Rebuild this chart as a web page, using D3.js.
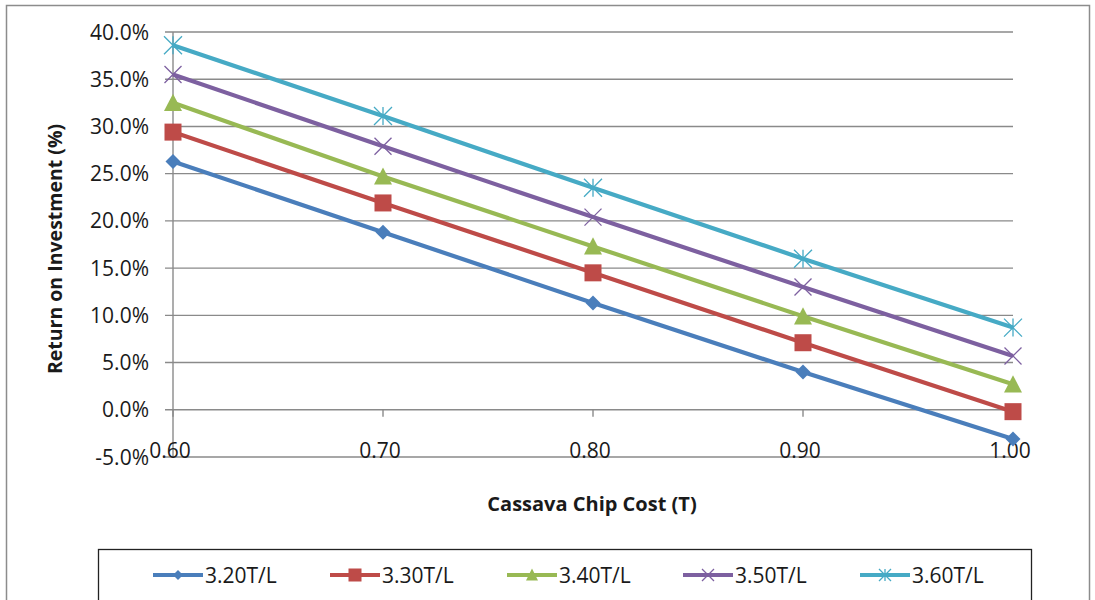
<!DOCTYPE html>
<html>
<head>
<meta charset="utf-8">
<script src="https://cdn.jsdelivr.net/npm/d3@7"></script>
<style>
  html, body { margin: 0; padding: 0; background: #fff; }
  svg { display: block; }
  text { font-family: "Open Sans", "Noto Sans", sans-serif; fill: #1a1a1a; }
</style>
</head>
<body>
<svg id="chart" width="1095" height="600"></svg>
<script>
// Chip cost on the horizontal axis
const chipCosts = [0.60, 0.70, 0.80, 0.90, 1.00];
const xTickLabels = ["0.60", "0.70", "0.80", "0.90", "1.00"];

// Ethanol price series (return on investment, fraction)
const seriesNames = ["3.20T/L", "3.30T/L", "3.40T/L", "3.50T/L", "3.60T/L"];
const roi320 = [0.263, 0.188, 0.113, 0.040, -0.031];
const roi330 = [0.294, 0.219, 0.145, 0.071, -0.002];
const roi340 = [0.325, 0.247, 0.173, 0.099, 0.027];
const roi350 = [0.355, 0.279, 0.204, 0.130, 0.057];
const roi360 = [0.386, 0.311, 0.235, 0.160, 0.087];

const yTicks = [-0.05, 0, 0.05, 0.10, 0.15, 0.20, 0.25, 0.30, 0.35, 0.40];

const colors = ["#4A7EBB", "#BE4B48", "#98B954", "#7D60A0", "#46AAC5"];
const markers = ["diamond", "square", "triangle", "x", "star"];
const allSeries = [roi320, roi330, roi340, roi350, roi360];

const svg = d3.select("#chart");

// outer chart frame
svg.append("rect")
  .attr("x", 6.5).attr("y", 5.5).attr("width", 1083).attr("height", 640)
  .attr("fill", "#fff").attr("stroke", "#8c8c8c").attr("stroke-width", 1.5);

const x = d3.scaleLinear().domain([0.6, 1.0]).range([173, 1013]);
const y = d3.scaleLinear().domain([-0.05, 0.40]).range([457, 32]);

// horizontal gridlines with short left ticks
const grid = svg.append("g");
grid.selectAll("line").data(yTicks).join("line")
  .attr("x1", 165).attr("x2", x(1.0))
  .attr("y1", d => y(d)).attr("y2", d => y(d))
  .attr("stroke", "#8a8a8a").attr("stroke-width", 1.4);

// vertical axis line
svg.append("line")
  .attr("x1", x(0.6)).attr("x2", x(0.6))
  .attr("y1", y(0.40)).attr("y2", y(-0.05))
  .attr("stroke", "#8a8a8a").attr("stroke-width", 1.4);

// y tick labels (plain hyphen for negatives)
const pct = d3.format(".1%");
svg.append("g").selectAll("text").data(yTicks).join("text")
  .attr("x", 149).attr("y", d => y(d) + 7.5)
  .attr("text-anchor", "end")
  .style("font-size", "21px")
  .text(d => pct(d).replace("\u2212", "-"));

// horizontal axis sits at 0%, tick marks pointing down
svg.append("g").selectAll("line").data(chipCosts).join("line")
  .attr("x1", d => x(d)).attr("x2", d => x(d))
  .attr("y1", y(0)).attr("y2", y(0) + 7)
  .attr("stroke", "#8a8a8a").attr("stroke-width", 1.4);

svg.append("g").selectAll("text").data(chipCosts).join("text")
  .attr("x", d => x(d) - 3).attr("y", 458)
  .attr("text-anchor", "middle")
  .style("font-size", "21px")
  .text((d, i) => xTickLabels[i]);

// axis titles
svg.append("text")
  .attr("transform", "translate(62,249) rotate(-90)")
  .attr("text-anchor", "middle")
  .style("font-size", "19.5px").style("font-weight", "bold")
  .text("Return on Investment (%)");

svg.append("text")
  .attr("x", 592).attr("y", 511)
  .attr("text-anchor", "middle")
  .style("font-size", "20px").style("font-weight", "bold")
  .text("Cassava Chip Cost (T)");

// marker drawing
function drawMarker(g, type, color, s) {
  if (type === "diamond") {
    g.append("path").attr("d", d3.symbol(d3.symbolSquare, s * s * 0.5)())
      .attr("transform", "rotate(45)").attr("fill", color);
  } else if (type === "square") {
    g.append("rect").attr("x", -s / 2).attr("y", -s / 2)
      .attr("width", s).attr("height", s).attr("fill", color);
  } else if (type === "triangle") {
    const h = s * 0.9;
    g.append("path")
      .attr("d", `M0,${-h / 2 - 1}L${s / 2},${h / 2}L${-s / 2},${h / 2}Z`)
      .attr("fill", color);
  } else if (type === "x") {
    const r = s / 2;
    g.append("path").attr("d", `M${-r},${-r}L${r},${r}M${-r},${r}L${r},${-r}`)
      .attr("stroke", color).attr("stroke-width", 1.3).attr("fill", "none");
  } else if (type === "star") {
    const r = s / 2;
    g.append("path")
      .attr("d", `M${-r},${-r}L${r},${r}M${-r},${r}L${r},${-r}M0,${-r}L0,${r}`)
      .attr("stroke", color).attr("stroke-width", 1.3).attr("fill", "none");
  }
}

const sizes = { diamond: 15, square: 17, triangle: 18, x: 17, star: 18 };
const line = d3.line().x((d, i) => x(chipCosts[i])).y(d => y(d));

allSeries.forEach((vals, si) => {
  const g = svg.append("g");
  g.append("path").datum(vals)
    .attr("d", line)
    .attr("fill", "none").attr("stroke", colors[si])
    .attr("stroke-width", 4.2).attr("stroke-linejoin", "round");
  vals.forEach((v, i) => {
    const mg = g.append("g").attr("transform", `translate(${x(chipCosts[i])},${y(v)})`);
    drawMarker(mg, markers[si], colors[si], sizes[markers[si]]);
  });
});

// legend
svg.append("rect")
  .attr("x", 98.5).attr("y", 549.5).attr("width", 933).attr("height", 70)
  .attr("fill", "#fff").attr("stroke", "#222").attr("stroke-width", 1.3);

const legendX = [153, 330, 507, 683, 860];
const legendSizes = { diamond: 10, square: 13, triangle: 12, x: 12, star: 12 };
seriesNames.forEach((name, si) => {
  const g = svg.append("g").attr("transform", `translate(${legendX[si]},575)`);
  g.append("line").attr("x1", 0).attr("x2", 50).attr("y1", 0).attr("y2", 0)
    .attr("stroke", colors[si]).attr("stroke-width", 4);
  const mg = g.append("g").attr("transform", "translate(25,0)");
  drawMarker(mg, markers[si], colors[si], legendSizes[markers[si]]);
  g.append("text").attr("x", 52).attr("y", 7.5)
    .style("font-size", "21px")
    .text(name);
});
</script>
</body>
</html>
